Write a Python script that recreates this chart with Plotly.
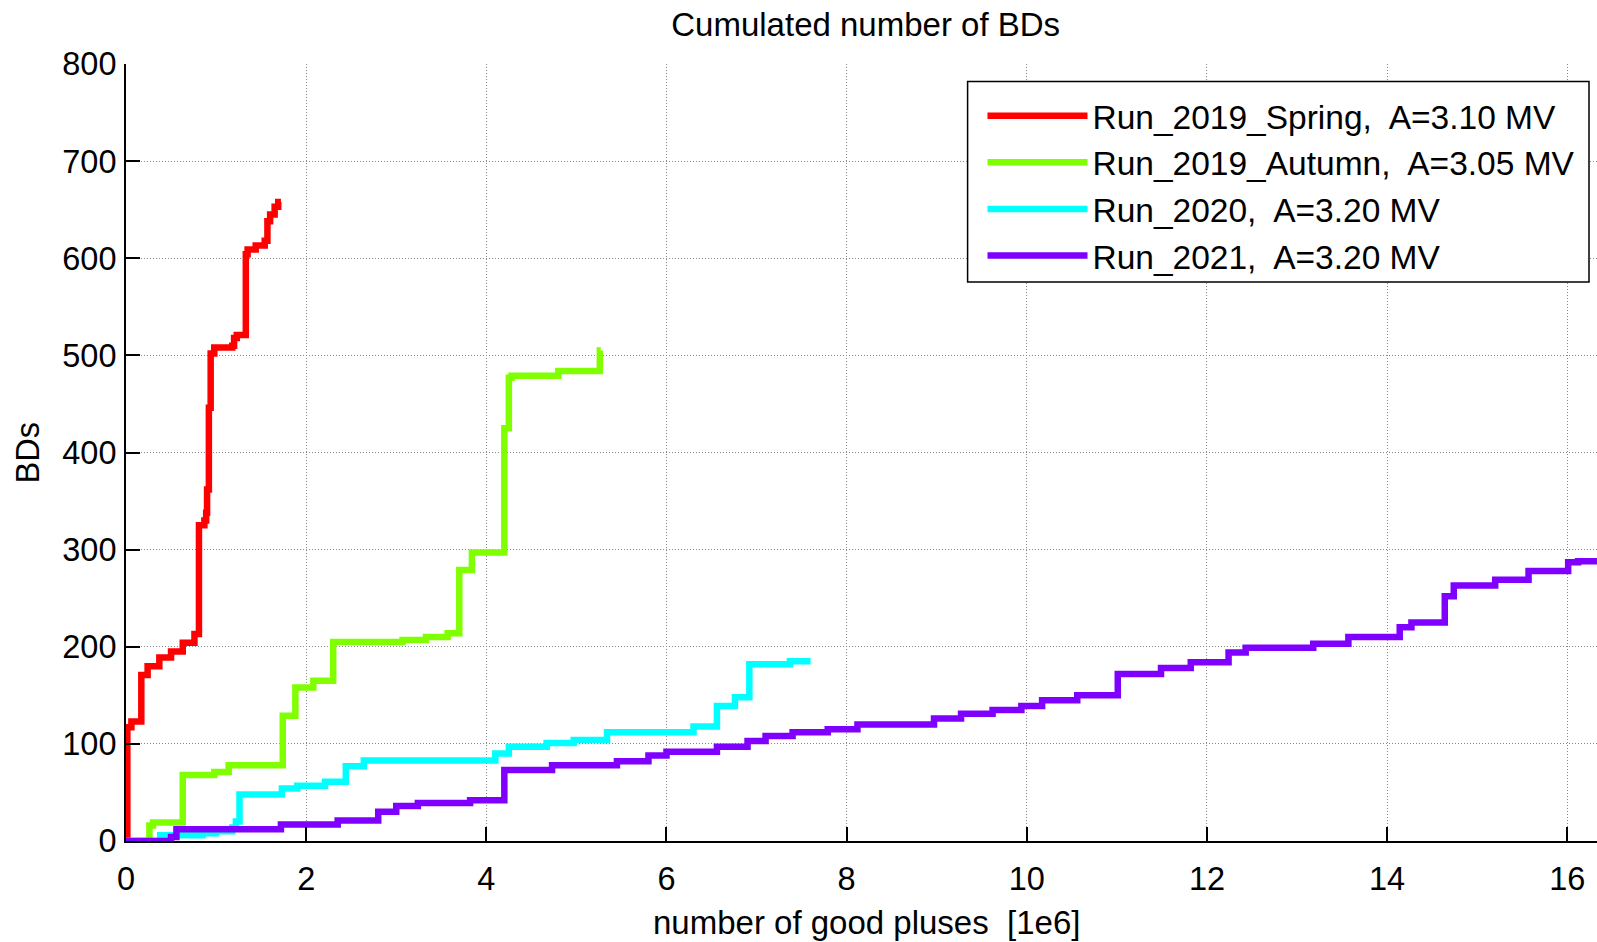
import plotly.graph_objects as go

# ---- data (x in 1e6 pulses, y = cumulated BDs) ----
red_x = [0.0, 0.015, 0.06, 0.17, 0.24, 0.37, 0.50, 0.63, 0.76, 0.81, 0.87, 0.89, 0.90, 0.92, 0.94,
         0.98, 1.18, 1.20, 1.23, 1.33, 1.35, 1.44, 1.54, 1.57, 1.60, 1.65, 1.69, 1.72]
red_y = [0, 117, 123, 171, 180, 189, 195, 204, 213, 325, 330, 338, 362, 446, 502,
         508, 510, 518, 521, 604, 609, 613, 618, 638, 645, 653, 658, 658]

green_x = [0.0, 0.24, 0.26, 0.30, 0.63, 0.98, 1.14, 1.74, 1.88, 2.08, 2.30, 3.07, 3.33, 3.57, 3.70,
           3.84, 4.20, 4.25, 4.28, 4.80, 5.26, 5.27]
green_y = [0, 0, 16, 19, 68, 71, 78, 129, 158, 165, 205, 207, 210, 214, 279,
           297, 425, 477, 479, 484, 505, 505]

cyan_x = [0.0, 0.36, 0.38, 0.85, 1.00, 1.18, 1.22, 1.26, 1.73, 1.90, 2.21, 2.44, 2.64, 4.10, 4.25,
          4.67, 4.97, 5.34, 6.30, 6.56, 6.76, 6.92, 7.37, 7.60]
cyan_y = [0, 0, 6, 8, 10, 14, 20, 48, 54, 57, 61, 77, 83, 90, 97,
          101, 104, 112, 118, 139, 148, 182, 185, 185]

purple_x = [0.0, 0.45, 0.50, 0.56, 1.72, 2.35, 2.80, 3.00, 3.24, 3.82, 4.20, 4.73, 5.45, 5.80, 6.00,
            6.56, 6.90, 7.10, 7.40, 7.79, 8.12, 8.97, 9.27, 9.62, 9.94, 10.17, 10.56, 11.01, 11.49,
            11.82, 12.24, 12.43, 13.18, 13.57, 14.14, 14.27, 14.64, 14.74, 15.20, 15.57, 16.01,
            16.12, 16.60]
purple_y = [0, 0, 4, 12, 17, 21, 30, 36, 39, 42, 73, 78, 82, 88, 92,
            97, 103, 108, 112, 115, 120, 126, 131, 135, 139, 145, 150, 172, 178,
            184, 194, 199, 203, 210, 220, 225, 252, 263, 269, 278, 287,
            288, 290]

names = ["Run_2019_Spring,\u00a0 A=3.10 MV",
         "Run_2019_Autumn,\u00a0 A=3.05 MV",
         "Run_2020,\u00a0 A=3.20 MV",
         "Run_2021,\u00a0 A=3.20 MV"]
colors = ["#FF0000", "#80FF00", "#00FFFF", "#8000FF"]
series = [(red_x, red_y), (green_x, green_y), (cyan_x, cyan_y), (purple_x, purple_y)]

x_ticks = [0, 2, 4, 6, 8, 10, 12, 14, 16]
y_ticks = [0, 100, 200, 300, 400, 500, 600, 700, 800]

FONT = "Liberation Sans, Arial, sans-serif"

fig = go.Figure()
for (xs, ys), nm, c in zip(series, names, colors):
    fig.add_trace(go.Scatter(x=xs, y=ys, mode="lines", name=nm,
                             line=dict(color=c, width=6.5, shape="hv")))

W, H = 1597, 942
L, R, T, B = 126, 0, 64, 101
pw, ph = W - L - R, H - T - B


def px_x(p):
    return (p - L) / pw


def px_y(p):
    return (H - B - p) / ph


fig.update_layout(
    width=W, height=H,
    margin=dict(l=L, r=R, t=T, b=B),
    paper_bgcolor="white", plot_bgcolor="white",
    font=dict(family=FONT, size=32, color="black"),
    title=dict(text="Cumulated number of BDs", font=dict(size=33, color="black"),
               x=865.7 / W, xref="container", xanchor="center",
               y=1 - 24.5 / H, yref="container", yanchor="middle"),
    showlegend=True,
    legend=dict(x=px_x(982.5), y=px_y(87.5), xanchor="left", yanchor="top",
                bgcolor="rgba(0,0,0,0)", borderwidth=0,
                font=dict(size=33.5, color="black"), itemwidth=100,
                tracegroupgap=0),
    shapes=[dict(type="rect", xref="paper", yref="paper",
                 x0=px_x(967.6), x1=px_x(1589), y0=px_y(282), y1=px_y(81.5),
                 line=dict(color="black", width=1.5), fillcolor="white", layer="above")],
    xaxis=dict(range=[0, 16.33], tickvals=x_ticks, ticktext=[str(v) for v in x_ticks],
               showline=True, linecolor="black", linewidth=2, mirror=False,
               ticks="inside", ticklen=14, tickwidth=2, tickcolor="black",
               showgrid=True, gridcolor="#888888", gridwidth=1, griddash="1px,2px",
               zeroline=False, tickfont=dict(size=32.5), ticklabelstandoff=8),
    yaxis=dict(range=[0, 800], tickvals=y_ticks, ticktext=[str(v) for v in y_ticks],
               showline=True, linecolor="black", linewidth=2, mirror=False,
               ticks="inside", ticklen=14, tickwidth=2, tickcolor="black",
               showgrid=True, gridcolor="#888888", gridwidth=1, griddash="1px,2px",
               zeroline=False, tickfont=dict(size=32.5), ticklabelstandoff=1),
    annotations=[
        dict(text="number of good pluses\u00a0 [1e6]", xref="paper", yref="paper",
             x=px_x(866), y=px_y(922),
             xanchor="center", yanchor="middle", showarrow=False,
             font=dict(size=33, color="black")),
        dict(text="BDs", xref="paper", yref="paper",
             x=px_x(27.5), y=px_y(453), textangle=-90,
             xanchor="center", yanchor="middle", showarrow=False,
             font=dict(size=32.5, color="black")),
    ],
)

fig.write_html("out.html")
